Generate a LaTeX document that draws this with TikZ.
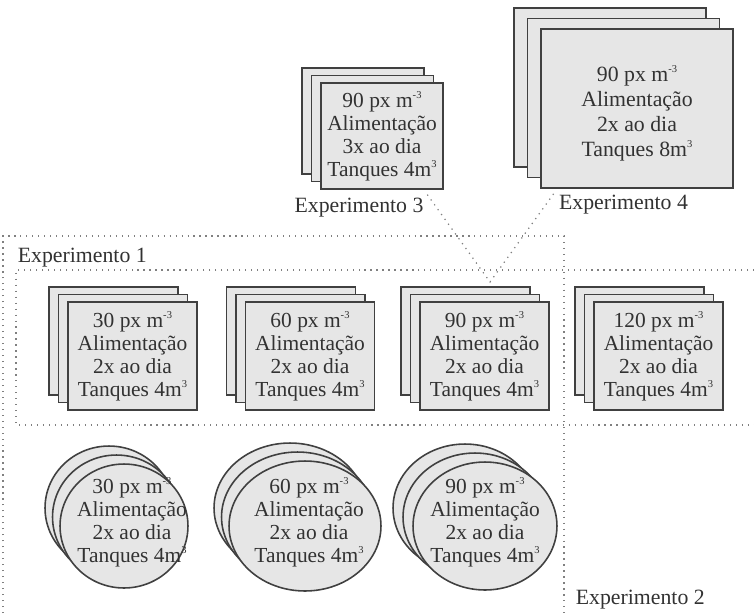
\documentclass[tikz,border=0pt]{standalone}
\usepackage{fontspec}
\setmainfont{Liberation Serif}
\usetikzlibrary{shapes.geometric}
\definecolor{tankfill}{RGB}{230,230,230}
\definecolor{tankline}{RGB}{64,64,64}
\definecolor{inkgray}{RGB}{50,50,50}
\newcommand{\expo}[1]{\raisebox{0.9ex}{\fontsize{6}{6}\selectfont #1}}

\begin{document}
\begin{tikzpicture}[x=0.02cm,y=-0.02cm,
	tank/.style={draw=tankline,fill=tankfill,line width=0.9pt,inner sep=0pt,minimum width=2.58cm,minimum height=2.16cm},
	tanktext/.style={text=inkgray,align=center,inner sep=0pt,font=\fontsize{12.2}{13.1}\selectfont},
	explabel/.style={text=inkgray,inner sep=2pt,font=\fontsize{12.4}{13}\selectfont},
	framedot/.style={draw=gray,line width=0.7pt,dash pattern=on 0.7pt off 2.7pt}]
			\useasboundingbox (0,0) rectangle (754,613);
			% experiment frames
			\draw[framedot] (3,613) -- (3,236) -- (564,236) -- (564,613);
			\draw[framedot] (754,270) -- (16,270) -- (16,425) -- (754,425);
			% square tanks, 4 m3
			\foreach \d/\x in {30/132.5,60/310,90/484.5,120/658.5}{
				\node[tank] (sq\d-3) at (\x-19,341) {};
				\node[tank] (sq\d-2) at (\x-9.5,348.5) {};
				\node[tank,tanktext] (sq\d) at (\x,356) {\d~px m\expo{-3}\\Alimentação\\2x ao dia\\Tanques 4m\expo{3}};
			}
			% round tanks
			\foreach \d/\x/\rx/\ry/\dx/\tx in {30/124/64/62/7.5/132,60/305/76/65/7.5/309,90/485/72/64/10/485}{
				\node[tank,ellipse,minimum width={0.04cm*\rx},minimum height={0.04cm*\ry}] (ci\d-3) at (\x-2*\dx,508) {};
				\node[tank,ellipse,minimum width={0.04cm*\rx},minimum height={0.04cm*\ry}] (ci\d-2) at (\x-\dx,517) {};
				\node[tank,ellipse,minimum width={0.04cm*\rx},minimum height={0.04cm*\ry}] (ci\d) at (\x,526) {};
				\node[tanktext] (ci\d-txt) at (\tx,522) {\d~px m\expo{-3}\\Alimentação\\2x ao dia\\Tanques 4m\expo{3}};
			}
			% experiment 3
			\node[tank,minimum width=2.44cm,minimum height=2.12cm] (ex3-3) at (363,121) {};
			\node[tank,minimum width=2.44cm,minimum height=2.12cm] (ex3-2) at (372.5,128.5) {};
			\node[tank,tanktext,minimum width=2.44cm,minimum height=2.12cm] (ex3) at (382,136) {90 px m\expo{-3}\\Alimentação\\3x ao dia\\Tanques 4m\expo{3}};
			% experiment 4
			\node[tank,minimum width=3.84cm,minimum height=3.18cm] (ex4-3) at (610,87.5) {};
			\node[tank,minimum width=3.84cm,minimum height=3.18cm] (ex4-2) at (623.5,98) {};
			\node[tank,minimum width=3.84cm,minimum height=3.18cm] (ex4) at (637,108.5) {};
			\node[tanktext,font=\fontsize{12.4}{14.2}\selectfont] (ex4-txt) at (637,113) {90 px m\expo{-3}\\Alimentação\\2x ao dia\\Tanques 8m\expo{3}};
			% labels
			\node[explabel] (lab3) at (359,208) {Experimento 3};
			\node[explabel] (lab4) at (623.5,205) {Experimento 4};
			\node[explabel,anchor=west] (lab1) at (14,258) {Experimento 1};
			\node[explabel,anchor=west] (lab2) at (572,600) {Experimento 2};
			\coordinate (meet) at (490,282);
			\draw[framedot] (lab3.north east) -- (meet) -- (lab4.north west);
\end{tikzpicture}
\end{document}
